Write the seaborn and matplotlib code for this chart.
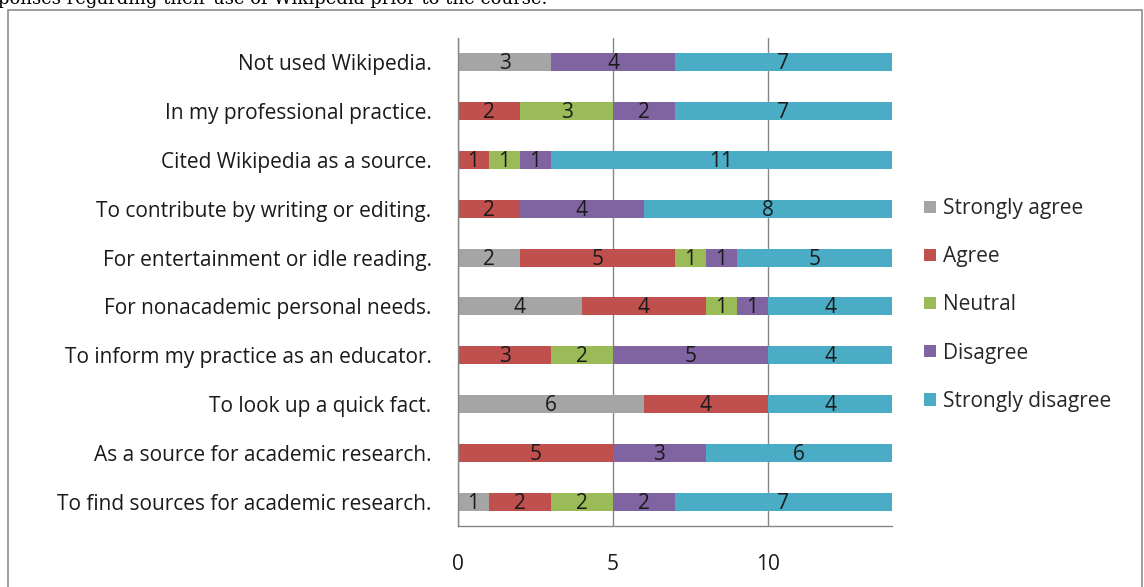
import numpy as np
import pandas as pd
import matplotlib
matplotlib.use('Agg')
import matplotlib.pyplot as plt
from matplotlib.patches import Rectangle, Patch
import seaborn as sns

# Данные
questions = [
    'Not used Wikipedia.',
    'In my professional practice.',
    'Cited Wikipedia as a source.',
    'To contribute by writing or editing.',
    'For entertainment or idle reading.',
    'For nonacademic personal needs.',
    'To inform my practice as an educator.',
    'To look up a quick fact.',
    'As a source for academic research.',
    'To find sources for academic research.',
]
strongly_agree = [3, 0, 0, 0, 2, 4, 0, 6, 0, 1]
agree = [0, 2, 1, 2, 5, 4, 3, 4, 5, 2]
neutral = [0, 3, 1, 0, 1, 1, 2, 0, 0, 2]
disagree = [4, 2, 1, 4, 1, 1, 5, 0, 3, 2]
strongly_disagree = [7, 7, 11, 8, 5, 4, 4, 4, 6, 7]

responses = ['Strongly agree', 'Agree', 'Neutral', 'Disagree', 'Strongly disagree']
colors = ['#A5A5A5', '#C0504D', '#9BBB59', '#8064A2', '#4BACC6']

df = pd.DataFrame({
    'Question': questions,
    'Strongly agree': strongly_agree,
    'Agree': agree,
    'Neutral': neutral,
    'Disagree': disagree,
    'Strongly disagree': strongly_disagree,
})
cum = df[responses].cumsum(axis=1)
cum['Question'] = df['Question']

sns.set_style('white')
plt.rcParams['font.family'] = ['Open Sans', 'DejaVu Sans']
FS = 15

fig = plt.figure(figsize=(11.44, 5.87), dpi=100)
ax = fig.add_axes([458 / 1144, 1 - 526 / 587, 434 / 1144, 488 / 587])

# Накопленные полосы: рисуем от последней к первой
for i in range(len(responses) - 1, -1, -1):
    sns.barplot(data=cum, x=responses[i], y='Question',
                orient='h', color=colors[i], saturation=1, width=0.37,
                linewidth=0, ax=ax, zorder=2)

# Подписи значений
for r, q in enumerate(questions):
    left = 0
    for resp in responses:
        v = df.loc[r, resp]
        if v > 0:
            ax.text(left + v / 2, r + 0.03, str(v), ha='center', va='center',
                    fontsize=FS, color='#1a1a1a', zorder=3)
        left += v

ax.set_xlim(0, 14)
ax.set_ylim(len(questions) - 0.5, -0.5)
ax.set_xticks([0, 5, 10])
ax.set_xlabel('')
ax.set_ylabel('')
ax.xaxis.grid(True, color='#868686', linewidth=1)
ax.set_axisbelow(True)
for s in ['top', 'right']:
    ax.spines[s].set_visible(False)
for s in ['left', 'bottom']:
    ax.spines[s].set_color('#868686')
    ax.spines[s].set_linewidth(1)

ax.tick_params(axis='x', direction='out', length=8, width=1, color='#868686',
               labelsize=FS, labelcolor='#1a1a1a', pad=12)
ax.set_yticks(range(len(questions)))
ax.set_yticklabels(questions)
ax.tick_params(axis='y', which='major', length=0, labelsize=FS, labelcolor='#1a1a1a', pad=19)
ax.set_yticks(np.arange(-0.5, len(questions), 1), minor=True)
ax.tick_params(axis='y', which='minor', direction='out', length=6, width=1, color='#868686')

handles = [Patch(facecolor=c, edgecolor='none') for c in colors]
fig.legend(handles, responses, loc='upper left', bbox_to_anchor=(916 / 1144, 1 - 190 / 587),
           frameon=False, fontsize=FS, handlelength=0.55, handleheight=0.55,
           handletextpad=0.35, labelspacing=1.3, borderaxespad=0)

# Рамка и обрезанная подпись сверху
fig.patches.append(Rectangle((8 / 1144, -0.05), 1134 / 1144, 1.05 - 10 / 587,
                             transform=fig.transFigure, fill=False,
                             edgecolor='#8c8c8c', linewidth=1.2))
fig.text(-2 / 1144, 1 - 4 / 587, 'ponses regarding their use of Wikipedia prior to the course.',
         family='DejaVu Serif', fontsize=13, va='baseline', ha='left', color='black')

plt.savefig('out.png', dpi=100)
